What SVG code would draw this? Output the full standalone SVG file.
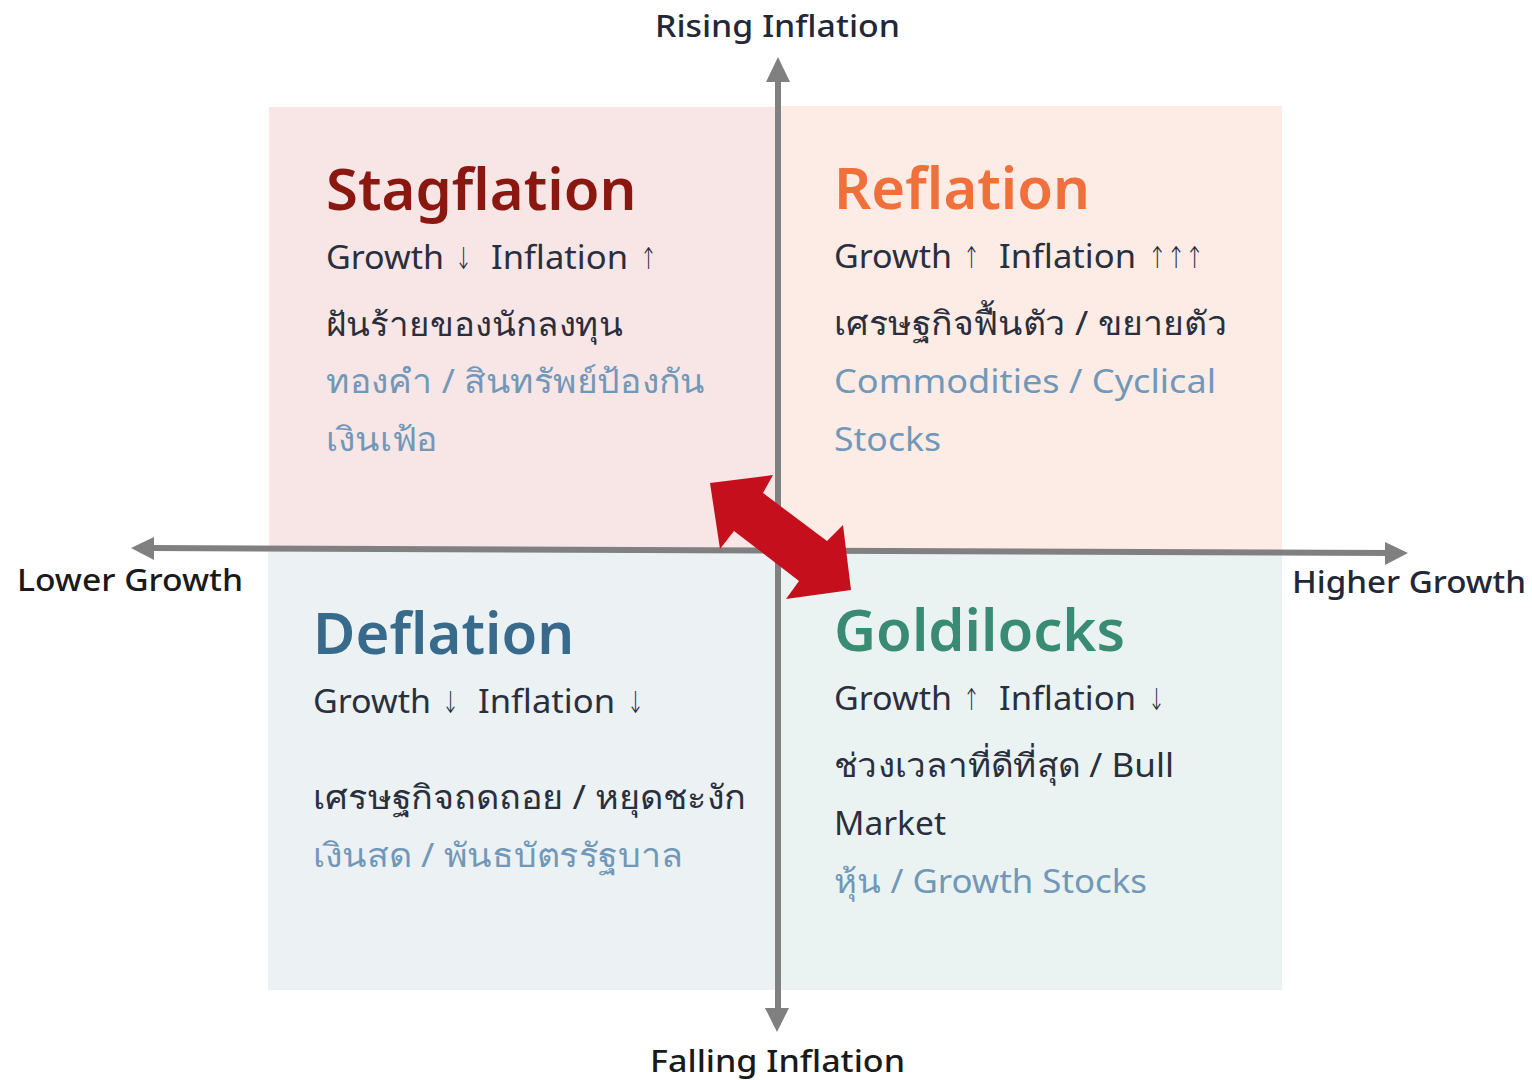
<svg xmlns="http://www.w3.org/2000/svg" width="1532" height="1080" viewBox="0 0 1532 1080">
  <style>
    text { font-family: "Noto Sans", "Liberation Sans", sans-serif; }
    .axis-label { font-size: 31px; font-weight: 500; fill: #232838; }
    .axis-label-dark { font-size: 31px; font-weight: 500; fill: #1a1a1a; }
    .title { font-size: 58px; font-weight: 600; }
    .line { font-size: 33px; fill: #2a2f3e; }
    .asset { font-size: 33px; fill: #7198b8; }
    .arr { font-family: "DejaVu Sans", sans-serif; font-weight: 200; font-size: 30px; fill: #2a2f3e; }
    .axis { stroke: #808080; stroke-width: 6; fill: none; }
    .head { fill: #808080; }
  </style>

  <rect width="1532" height="1080" fill="#ffffff"/>

  <g id="quadrant-stagflation">
    <rect x="269" y="107" width="509" height="443" fill="#f8e5e5"/>
    <text class="title" x="326" y="210" fill="#8a1810">Stagflation</text>
    <text class="line" x="326" y="269" textLength="118" lengthAdjust="spacingAndGlyphs">Growth</text>
    <text class="arr" x="455" y="269" textLength="17" lengthAdjust="spacingAndGlyphs">↓</text>
    <text class="line" x="491" y="269" textLength="137" lengthAdjust="spacingAndGlyphs">Inflation</text>
    <text class="arr" x="640" y="269" textLength="17" lengthAdjust="spacingAndGlyphs">↑</text>
    <text class="line" x="326" y="336" textLength="297" lengthAdjust="spacingAndGlyphs">ฝันร้ายของนักลงทุน</text>
    <text class="asset" x="326" y="393" textLength="379" lengthAdjust="spacingAndGlyphs">ทองคำ / สินทรัพย์ป้องกัน</text>
    <text class="asset" x="326" y="451" textLength="112" lengthAdjust="spacingAndGlyphs">เงินเฟ้อ</text>
  </g>

  <g id="quadrant-reflation">
    <rect x="778" y="106" width="504" height="445" fill="#fcece5"/>
    <text class="title" x="834" y="209" fill="#ef703a">Reflation</text>
    <text class="line" x="834" y="268" textLength="118" lengthAdjust="spacingAndGlyphs">Growth</text>
    <text class="arr" x="963" y="268" textLength="17" lengthAdjust="spacingAndGlyphs">↑</text>
    <text class="line" x="999" y="268" textLength="137" lengthAdjust="spacingAndGlyphs">Inflation</text>
    <text class="arr" x="1148" y="268" textLength="56" lengthAdjust="spacingAndGlyphs">↑↑↑</text>
    <text class="line" x="834" y="335" textLength="393" lengthAdjust="spacingAndGlyphs">เศรษฐกิจฟื้นตัว / ขยายตัว</text>
    <text class="asset" x="834" y="393" textLength="382" lengthAdjust="spacingAndGlyphs">Commodities / Cyclical</text>
    <text class="asset" x="834" y="451" textLength="107" lengthAdjust="spacingAndGlyphs">Stocks</text>
  </g>

  <g id="quadrant-deflation">
    <rect x="268" y="550" width="510" height="440" fill="#ecf1f4"/>
    <text class="title" x="313" y="654" fill="#386a8b">Deflation</text>
    <text class="line" x="313" y="713" textLength="118" lengthAdjust="spacingAndGlyphs">Growth</text>
    <text class="arr" x="442" y="713" textLength="17" lengthAdjust="spacingAndGlyphs">↓</text>
    <text class="line" x="478" y="713" textLength="137" lengthAdjust="spacingAndGlyphs">Inflation</text>
    <text class="arr" x="627" y="713" textLength="17" lengthAdjust="spacingAndGlyphs">↓</text>
    <text class="line" x="313" y="809" textLength="433" lengthAdjust="spacingAndGlyphs">เศรษฐกิจถดถอย / หยุดชะงัก</text>
    <text class="asset" x="313" y="867" textLength="370" lengthAdjust="spacingAndGlyphs">เงินสด / พันธบัตรรัฐบาล</text>
  </g>

  <g id="quadrant-goldilocks">
    <rect x="778" y="551" width="504" height="439" fill="#ebf3f2"/>
    <text class="title" x="834" y="651" fill="#3a8b74">Goldilocks</text>
    <text class="line" x="834" y="710" textLength="118" lengthAdjust="spacingAndGlyphs">Growth</text>
    <text class="arr" x="963" y="710" textLength="17" lengthAdjust="spacingAndGlyphs">↑</text>
    <text class="line" x="999" y="710" textLength="137" lengthAdjust="spacingAndGlyphs">Inflation</text>
    <text class="arr" x="1148" y="710" textLength="17" lengthAdjust="spacingAndGlyphs">↓</text>
    <text class="line" x="834" y="777" textLength="340" lengthAdjust="spacingAndGlyphs">ช่วงเวลาที่ดีที่สุด / Bull</text>
    <text class="line" x="834" y="835" textLength="112" lengthAdjust="spacingAndGlyphs">Market</text>
    <text class="asset" x="834" y="893" textLength="313" lengthAdjust="spacingAndGlyphs">หุ้น / Growth Stocks</text>
  </g>

  <!-- axes and the cycle arrow -->
  <g id="connectors">
    <line class="axis" x1="150" y1="548" x2="1390" y2="553"/>
    <polygon class="head" points="131,548 154,537 154,560"/>
    <polygon class="head" points="1408,553 1385,542 1385,565"/>
    <line class="axis" x1="778" y1="78" x2="778" y2="1012"/>
    <polygon class="head" points="778,57 766,82 790,82"/>
    <polygon class="head" points="777,1032 765,1008 789,1008"/>
    <polygon fill="#c60f1d" points="710,483 773,475 763,493 827,541 843,525 851,590 786,599 799,581 734,531 720,549"/>
  </g>

  <g id="axis-labels">
    <text class="axis-label" x="655" y="37" textLength="245" lengthAdjust="spacingAndGlyphs">Rising Inflation</text>
    <text class="axis-label-dark" x="650" y="1072" textLength="255" lengthAdjust="spacingAndGlyphs">Falling Inflation</text>
    <text class="axis-label-dark" x="17" y="591" textLength="226" lengthAdjust="spacingAndGlyphs">Lower Growth</text>
    <text class="axis-label" x="1292" y="593" textLength="234" lengthAdjust="spacingAndGlyphs">Higher Growth</text>
  </g>
</svg>
